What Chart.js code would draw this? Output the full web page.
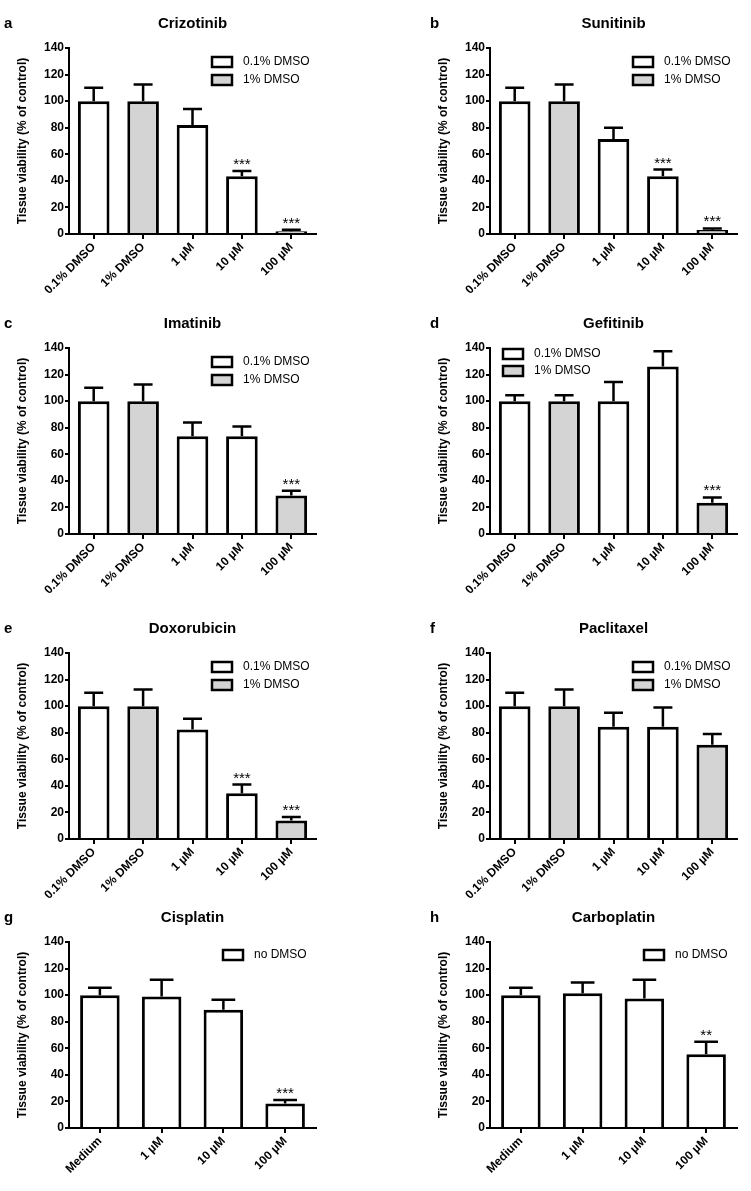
<!DOCTYPE html>
<html>
<head>
<meta charset="utf-8">
<script src="https://cdn.jsdelivr.net/npm/chart.js@4"></script>
<style>
  body { margin: 0; background: #fff; }
  #page { position: relative; width: 751px; height: 1191px; overflow: hidden; }
  #page canvas { position: absolute; }
</style>
</head>
<body>
<div id="page"></div>
<script>
// categories / legends
const dmsoCategories = ['0.1% DMSO', '1% DMSO', '1 µM', '10 µM', '100 µM'];
const platinCategories = ['Medium', '1 µM', '10 µM', '100 µM'];
const dmsoLegend = ['0.1% DMSO', '1% DMSO'];
const platinLegend = ['no DMSO'];
const dmsoGroups = [0, 1, 0, 0, 1];
const platinGroups = [0, 0, 0, 0];
const groupFill = ['#ffffff', '#d4d4d4'];

const yMin = 0;
const yMax = 140;
const yStep = 20;
const yTitle = 'Tissue viability (% of control)';

// values (mean, error bar above the mean, significance)
const crizotinibMean = [100, 100, 82, 43.5, 2];
const crizotinibErr = [10, 12.5, 12, 4, 1.2];
const crizotinibStars = ['', '', '', '***', '***'];

const sunitinibMean = [100, 100, 71.5, 43.5, 3];
const sunitinibErr = [10, 12.5, 8.5, 5, 1.2];
const sunitinibStars = ['', '', '', '***', '***'];

const imatinibMean = [100, 100, 73.5, 73.5, 29];
const imatinibErr = [10, 12.5, 10.5, 7.5, 3.5];
const imatinibStars = ['', '', '', '', '***'];

const gefitinibMean = [100, 100, 100, 126, 23.5];
const gefitinibErr = [4.5, 4.5, 14.5, 11.5, 4];
const gefitinibStars = ['', '', '', '', '***'];

const doxorubicinMean = [100, 100, 82.5, 34.5, 14];
const doxorubicinErr = [10, 12.5, 8, 6.5, 2.5];
const doxorubicinStars = ['', '', '', '***', '***'];

const paclitaxelMean = [100, 100, 84.5, 84.5, 71];
const paclitaxelErr = [10, 12.5, 10.5, 14.5, 8];
const paclitaxelStars = ['', '', '', '', ''];

const cisplatinMean = [100, 99, 89, 18.5];
const cisplatinErr = [5.5, 12.5, 7.5, 2.5];
const cisplatinStars = ['', '', '', '***'];

const carboplatinMean = [100, 101.5, 97.5, 55.5];
const carboplatinErr = [5.5, 8, 14, 9.5];
const carboplatinStars = ['', '', '', '**'];

const FONT = "'Liberation Sans', Arial, sans-serif";

const panels = [
  { letter: 'a', title: 'Crizotinib', col: 0, row: 0, labels: dmsoCategories, groups: dmsoGroups, legend: dmsoLegend, mean: crizotinibMean, err: crizotinibErr, stars: crizotinibStars, leg: [143, 14, 18] },
  { letter: 'b', title: 'Sunitinib', col: 1, row: 0, labels: dmsoCategories, groups: dmsoGroups, legend: dmsoLegend, mean: sunitinibMean, err: sunitinibErr, stars: sunitinibStars, leg: [143, 14, 18] },
  { letter: 'c', title: 'Imatinib', col: 0, row: 1, labels: dmsoCategories, groups: dmsoGroups, legend: dmsoLegend, mean: imatinibMean, err: imatinibErr, stars: imatinibStars, leg: [143, 14, 18] },
  { letter: 'd', title: 'Gefitinib', col: 1, row: 1, labels: dmsoCategories, groups: dmsoGroups, legend: dmsoLegend, mean: gefitinibMean, err: gefitinibErr, stars: gefitinibStars, leg: [13, 6, 17] },
  { letter: 'e', title: 'Doxorubicin', col: 0, row: 2, labels: dmsoCategories, groups: dmsoGroups, legend: dmsoLegend, mean: doxorubicinMean, err: doxorubicinErr, stars: doxorubicinStars, leg: [143, 14, 18] },
  { letter: 'f', title: 'Paclitaxel', col: 1, row: 2, labels: dmsoCategories, groups: dmsoGroups, legend: dmsoLegend, mean: paclitaxelMean, err: paclitaxelErr, stars: paclitaxelStars, leg: [143, 14, 18] },
  { letter: 'g', title: 'Cisplatin', col: 0, row: 3, labels: platinCategories, groups: platinGroups, legend: platinLegend, mean: cisplatinMean, err: cisplatinErr, stars: cisplatinStars, leg: [154, 13, 18] },
  { letter: 'h', title: 'Carboplatin', col: 1, row: 3, labels: platinCategories, groups: platinGroups, legend: platinLegend, mean: carboplatinMean, err: carboplatinErr, stars: carboplatinStars, leg: [154, 13, 18] }
];

const colLeft = [0, 421];
const rowTop = [0, 300, 605, 894];
const letterX = [4, 9];

// error bars, stars, title, panel letter and legend
const decor = (p) => ({
  id: 'decor' + p.letter,
  afterDatasetsDraw(chart) {
    const ctx = chart.ctx;
    const yScale = chart.scales.y;
    const area = chart.chartArea;
    const meta = chart.getDatasetMeta(0);
    ctx.save();
    ctx.strokeStyle = '#000';
    ctx.fillStyle = '#000';
    ctx.lineWidth = 2.5;
    ctx.lineCap = 'butt';
    meta.data.forEach((bar, i) => {
      const top = yScale.getPixelForValue(p.mean[i] + p.err[i]);
      const half = bar.width * 0.3;
      ctx.beginPath();
      ctx.moveTo(bar.x, bar.y);
      ctx.lineTo(bar.x, top);
      ctx.moveTo(bar.x - half, top);
      ctx.lineTo(bar.x + half, top);
      ctx.stroke();
      if (p.stars[i]) {
        ctx.font = '15px ' + FONT;
        ctx.textAlign = 'center';
        ctx.textBaseline = 'alphabetic';
        ctx.fillText(p.stars[i], bar.x, top - 2);
      }
    });

    // title + letter
    ctx.textBaseline = 'middle';
    ctx.font = 'bold 15px ' + FONT;
    ctx.textAlign = 'center';
    ctx.fillText(p.title, (area.left + area.right) / 2, area.top - 24);
    ctx.textAlign = 'left';
    ctx.fillText(p.letter, letterX[p.col], area.top - 24);

    // legend
    const [dx, dy, gap] = p.leg;
    ctx.font = '12px ' + FONT;
    p.legend.forEach((name, j) => {
      const bx = area.left + dx;
      const cy = area.top + dy + j * gap;
      ctx.fillStyle = groupFill[j];
      ctx.fillRect(bx, cy - 5, 20, 10);
      ctx.lineWidth = 2.5;
      ctx.strokeRect(bx, cy - 5, 20, 10);
      ctx.fillStyle = '#000';
      ctx.fillText(name, bx + 31, cy);
    });
    ctx.restore();
  }
});

const page = document.getElementById('page');

panels.forEach(p => {
  const canvas = document.createElement('canvas');
  canvas.width = 330;
  canvas.height = 300;
  canvas.style.left = colLeft[p.col] + 'px';
  canvas.style.top = rowTop[p.row] + 'px';
  page.appendChild(canvas);

  new Chart(canvas, {
    type: 'bar',
    data: {
      labels: p.labels,
      datasets: [{
        data: p.mean,
        backgroundColor: p.groups.map(g => groupFill[g]),
        borderColor: '#000',
        borderWidth: 3,
        borderSkipped: 'bottom',
        barPercentage: 0.64,
        categoryPercentage: 1
      }]
    },
    options: {
      responsive: false,
      animation: false,
      devicePixelRatio: 1,
      layout: { padding: { top: 48, left: 0, right: 14, bottom: 0 } },
      plugins: {
        legend: { display: false },
        title: { display: false },
        tooltip: { enabled: false }
      },
      scales: {
        x: {
          grid: { offset: false, drawOnChartArea: false, color: '#000', lineWidth: 2, tickLength: 5 },
          border: { color: '#000', width: 2, z: 1 },
          ticks: {
            color: '#000',
            font: { family: FONT, size: 12, weight: 'bold' },
            minRotation: 45,
            maxRotation: 45,
            autoSkip: false,
            padding: 1
          },
          afterFit: (scale) => { scale.height = 66; }
        },
        y: {
          min: yMin,
          max: yMax,
          grid: { drawOnChartArea: false, color: '#000', lineWidth: 2, tickLength: 4 },
          border: { color: '#000', width: 2 },
          ticks: {
            stepSize: yStep,
            color: '#000',
            font: { family: FONT, size: 12, weight: 'bold' },
            padding: 1
          },
          title: {
            display: true,
            text: yTitle,
            color: '#000',
            font: { family: FONT, size: 12, weight: 'bold' },
            padding: { top: 15, bottom: 0 }
          },
          afterFit: (scale) => { scale.width = 69; }
        }
      }
    },
    plugins: [decor(p)]
  });
});
</script>
</body>
</html>
